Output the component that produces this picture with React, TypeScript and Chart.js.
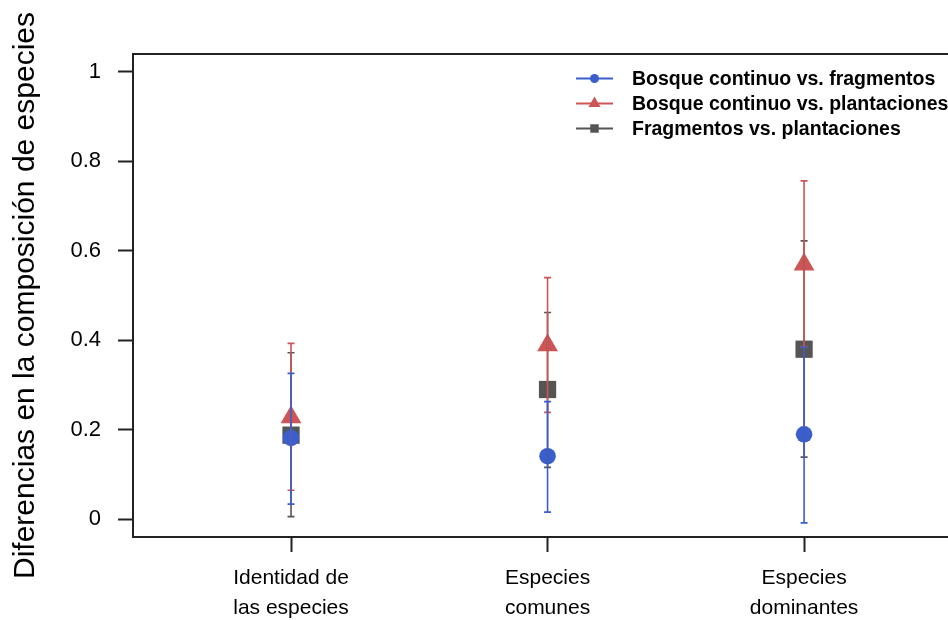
import React, { useEffect, useRef } from "react";
import { Chart, registerables } from "chart.js";

Chart.register(...registerables);

// ---- data ----
const categories: string[][] = [
  ["Identidad de", "las especies"],
  ["Especies", "comunes"],
  ["Especies", "dominantes"],
];
const categoryPositions = [1, 2, 3];
const seriesNames = [
  "Bosque continuo vs. fragmentos",
  "Bosque continuo vs. plantaciones",
  "Fragmentos vs. plantaciones",
];
const bcFragMean = [0.182, 0.141, 0.19];
const bcFragLow = [0.034, 0.016, -0.008];
const bcFragHigh = [0.326, 0.263, 0.385];
const bcPlantMean = [0.228, 0.389, 0.569];
const bcPlantLow = [0.065, 0.239, 0.386];
const bcPlantHigh = [0.393, 0.54, 0.756];
const fragPlantMean = [0.188, 0.29, 0.38];
const fragPlantLow = [0.006, 0.116, 0.139];
const fragPlantHigh = [0.372, 0.462, 0.622];
const yTicks = [0, 0.2, 0.4, 0.6, 0.8, 1];
const yTickLabels = ["0", "0.2", "0.4", "0.6", "0.8", "1"];
const yTitle = "Diferencias en la composición de especies";

// ---- styles ----
const FONT = "'Liberation Sans', Arial, sans-serif";
const AXIS_COLOR = "#222222";
const series = [
  { name: seriesNames[0], mean: bcFragMean, low: bcFragLow, high: bcFragHigh, color: "#3A5FCD", style: "circle", radius: 8.3, legendRadius: 4.5 },
  { name: seriesNames[1], mean: bcPlantMean, low: bcPlantLow, high: bcPlantHigh, color: "#CD5555", style: "triangle", radius: 12, legendRadius: 7 },
  { name: seriesNames[2], mean: fragPlantMean, low: fragPlantLow, high: fragPlantHigh, color: "#555555", style: "rect", radius: 12.2, legendRadius: 6 },
];

const errorBarPlugin = {
  id: "errorBars",
  afterDatasetsDraw(chart: any) {
    const { ctx, scales } = chart;
    const xs = scales.x;
    const ys = scales.y;
    const order = [2, 1, 0];
    ctx.save();
    order.forEach((si) => {
      const s = series[si];
      ctx.strokeStyle = s.color;
      ctx.lineWidth = 1.6;
      categoryPositions.forEach((pos, i) => {
        const x = xs.getPixelForValue(pos);
        const y1 = ys.getPixelForValue(s.low[i]);
        const y2 = ys.getPixelForValue(s.high[i]);
        ctx.beginPath();
        ctx.moveTo(x, y1);
        ctx.lineTo(x, y2);
        ctx.moveTo(x - 3.5, y1);
        ctx.lineTo(x + 3.5, y1);
        ctx.moveTo(x - 3.5, y2);
        ctx.lineTo(x + 3.5, y2);
        ctx.stroke();
      });
    });
    ctx.restore();
  },
};

const frameLegendPlugin = {
  id: "frameLegend",
  afterDraw(chart: any) {
    const { ctx, chartArea } = chart;
    ctx.save();
    // top frame line
    ctx.strokeStyle = AXIS_COLOR;
    ctx.lineWidth = 2;
    ctx.beginPath();
    ctx.moveTo(chartArea.left - 1, chartArea.top);
    ctx.lineTo(chartArea.right, chartArea.top);
    ctx.stroke();

    // legend
    const lx1 = chartArea.left + 443;
    const lx2 = chartArea.left + 480;
    const mx = (lx1 + lx2) / 2;
    const tx = chartArea.left + 499;
    const y0 = chartArea.top + 24.5;
    const dy = 25;
    ctx.font = `bold 19.5px ${FONT}`;
    ctx.textBaseline = "middle";
    ctx.textAlign = "left";
    series.forEach((s, i) => {
      const y = y0 + i * dy;
      ctx.strokeStyle = s.color;
      ctx.lineWidth = 2;
      ctx.beginPath();
      ctx.moveTo(lx1, y);
      ctx.lineTo(lx2, y);
      ctx.stroke();
      ctx.fillStyle = s.color;
      ctx.beginPath();
      const r = s.legendRadius;
      if (s.style === "circle") {
        ctx.arc(mx, y, r, 0, Math.PI * 2);
      } else if (s.style === "triangle") {
        ctx.moveTo(mx, y - r);
        ctx.lineTo(mx + r * 0.866, y + r / 2);
        ctx.lineTo(mx - r * 0.866, y + r / 2);
        ctx.closePath();
      } else {
        const h = r * Math.SQRT1_2;
        ctx.rect(mx - h, y - h, 2 * h, 2 * h);
      }
      ctx.fill();
      ctx.fillStyle = "#000000";
      ctx.fillText(s.name, tx, y + 1);
    });
    ctx.restore();
  },
};

export default function App() {
  const canvasRef = useRef<HTMLCanvasElement | null>(null);

  useEffect(() => {
    const canvas = canvasRef.current;
    if (!canvas) return;
    const chart = new Chart(canvas, {
      type: "scatter",
      data: {
        datasets: series.map((s) => ({
          label: s.name,
          data: categoryPositions.map((p, i) => ({ x: p, y: s.mean[i] })),
          showLine: false,
          pointStyle: s.style as any,
          pointRadius: s.radius,
          pointBackgroundColor: s.color,
          pointBorderColor: s.color,
          pointBorderWidth: 0,
          backgroundColor: s.color,
          borderColor: s.color,
        })),
      },
      options: {
        animation: false,
        responsive: false,
        devicePixelRatio: 1,
        events: [],
        layout: { autoPadding: false, padding: { top: 54, left: 0, right: 0, bottom: 0 } },
        plugins: {
          legend: { display: false },
          tooltip: { enabled: false },
          title: { display: false },
        },
        scales: {
          x: {
            type: "linear",
            position: "bottom",
            min: 0.384,
            max: 3.561,
            afterBuildTicks: (scale: any) => {
              scale.ticks = categoryPositions.map((v) => ({ value: v }));
            },
            afterFit: (scale: any) => {
              scale.height = 83;
              scale.paddingLeft = 0;
              scale.paddingRight = 0;
            },
            ticks: {
              autoSkip: false,
              maxRotation: 0,
              minRotation: 0,
              padding: 11,
              color: "#000000",
              font: { family: FONT, size: 21, lineHeight: 1.43 },
              callback: (_v: any, index: number) => categories[index],
            },
            grid: {
              display: true,
              drawOnChartArea: false,
              drawTicks: true,
              tickLength: 15,
              tickColor: AXIS_COLOR,
              tickWidth: 2,
            },
            border: { display: true, color: AXIS_COLOR, width: 2 },
          },
          y: {
            type: "linear",
            position: "left",
            min: -0.0395,
            max: 1.0395,
            afterBuildTicks: (scale: any) => {
              scale.ticks = yTicks.map((v) => ({ value: v }));
            },
            afterFit: (scale: any) => {
              scale.width = 133;
              scale.paddingTop = 0;
              scale.paddingBottom = 0;
            },
            ticks: {
              padding: 17,
              color: "#000000",
              font: { family: FONT, size: 22 },
              callback: (_v: any, index: number) => yTickLabels[index],
            },
            grid: {
              display: true,
              drawOnChartArea: false,
              drawTicks: true,
              tickLength: 15,
              tickColor: AXIS_COLOR,
              tickWidth: 2,
            },
            border: { display: true, color: AXIS_COLOR, width: 2 },
            title: {
              display: true,
              text: yTitle,
              color: "#000000",
              font: { family: FONT, size: 30 },
              padding: { top: 8, bottom: 0 },
            },
          },
        },
      },
      plugins: [errorBarPlugin, frameLegendPlugin],
    } as any);
    return () => chart.destroy();
  }, []);

  return (
    <div style={{ position: "absolute", left: 0, top: 0, width: 948, height: 620, background: "#ffffff" }}>
      <canvas ref={canvasRef} width={948} height={620} style={{ display: "block" }} />
    </div>
  );
}
